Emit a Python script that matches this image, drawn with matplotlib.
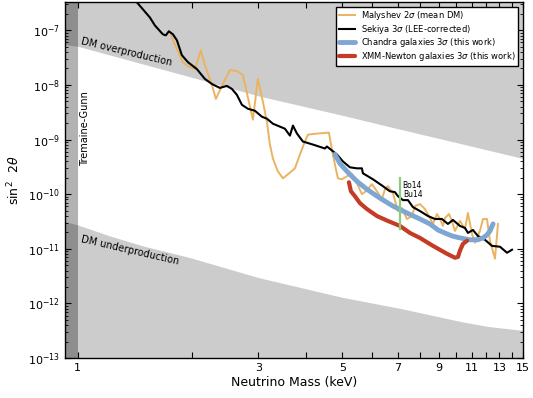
import matplotlib
matplotlib.use("Agg")
import matplotlib.pyplot as plt
from matplotlib.ticker import FixedLocator, NullLocator, LogLocator, FixedFormatter

# ---------------- data ----------------
# Sekiya 3 sigma (LEE-corrected)
sek_m = [1.43, 1.550, 1.598, 1.677, 1.708, 1.740, 1.783, 1.827, 1.883, 1.953, 2.063, 2.166,
         2.261, 2.373, 2.476, 2.553, 2.632, 2.713, 2.814, 2.936, 3.064, 3.159, 3.276, 3.524,
         3.634, 3.701, 3.792, 3.932, 4.178, 4.496, 4.550, 4.691, 4.836, 5.015, 5.234, 5.462,
         5.630, 5.665, 6.022, 6.398, 6.676, 6.882, 7.010, 7.227, 7.449, 7.679, 8.013, 8.413,
         8.779, 9.159, 9.502, 9.795, 10.22, 10.54, 10.73, 11.06, 11.40, 11.90, 12.42, 13.04,
         13.61, 14.03]
sek_s = [3.3e-7, 1.72e-7, 1.23e-7, 8.46e-8, 8.1e-8, 9.6e-8, 8.46e-8, 6.58e-8, 3.51e-8, 2.62e-8,
         1.95e-8, 1.29e-8, 1.04e-8, 8.82e-9, 9.6e-9, 8.46e-9, 6.58e-9, 4.33e-9, 3.66e-9, 3.37e-9,
         2.62e-9, 2.41e-9, 1.95e-9, 1.58e-9, 1.18e-9, 1.80e-9, 1.29e-9, 9.2e-10, 8.1e-10, 6.86e-10,
         7.46e-10, 6.31e-10, 5.34e-10, 3.98e-10, 3.10e-10, 2.97e-10, 2.97e-10, 2.41e-10, 1.87e-10,
         1.40e-10, 1.13e-10, 1.09e-10, 9.2e-11, 7.78e-11, 7.78e-11, 5.8e-11, 4.91e-11, 3.98e-11,
         3.51e-11, 3.51e-11, 2.85e-11, 3.37e-11, 2.62e-11, 2.41e-11, 1.95e-11, 2.21e-11, 1.72e-11,
         1.46e-11, 1.13e-11, 1.09e-11, 8.46e-12, 9.6e-12]

# Malyshev 2 sigma (mean DM)
mal_m = [1.761, 1.827, 1.895, 1.953, 2.039, 2.114, 2.166, 2.261, 2.316, 2.416, 2.522, 2.632,
         2.729, 2.831, 2.901, 2.990, 3.064, 3.159, 3.217, 3.276, 3.377, 3.481, 3.589, 3.746,
         3.862, 3.981, 4.054, 4.307, 4.606, 4.691, 4.777, 4.865, 4.985, 5.139, 5.298, 5.462,
         5.630, 5.769, 5.984, 6.169, 6.360, 6.477, 6.596, 6.800, 7.010, 7.182, 7.404, 7.632,
         7.773, 8.013, 8.261, 8.517, 8.675, 8.888, 9.052, 9.218, 9.331, 9.561, 9.737, 9.916,
         10.22, 10.54, 10.73, 11.00, 11.20, 11.54, 11.76, 12.05, 12.27, 12.65, 12.88]
mal_s = [8.1e-8, 4.52e-8, 2.62e-8, 2.21e-8, 1.95e-8, 4.33e-8, 2.31e-8, 1.0e-8, 5.56e-9, 1.04e-8,
         1.87e-8, 1.80e-8, 1.52e-8, 4.91e-9, 2.31e-9, 1.29e-8, 6.05e-9, 2.12e-9, 8.1e-10, 4.52e-10,
         2.62e-10, 1.95e-10, 2.31e-10, 2.97e-10, 5.34e-10, 9.2e-10, 1.23e-9, 1.29e-9, 1.34e-9,
         6.58e-10, 3.51e-10, 1.95e-10, 1.87e-10, 2.12e-10, 2.31e-10, 1.58e-10, 1.0e-10, 1.13e-10,
         1.52e-10, 1.13e-10, 8.1e-11, 1.23e-10, 1.40e-10, 1.04e-10, 4.91e-11, 5.56e-11, 3.51e-11,
         3.98e-11, 6.05e-11, 6.58e-11, 5.34e-11, 3.66e-11, 2.85e-11, 4.33e-11, 3.51e-11, 2.62e-11,
         3.66e-11, 4.33e-11, 3.23e-11, 2.12e-11, 3.23e-11, 2.31e-11, 4.52e-11, 1.87e-11, 1.29e-11,
         2.12e-11, 3.51e-11, 3.51e-11, 1.40e-11, 6.58e-12, 2.85e-11]

# Chandra galaxies 3 sigma (this work)
cha_m = [4.777, 4.924, 5.139, 5.462, 5.804, 6.283, 6.800, 7.404, 8.013, 8.517, 8.942, 9.445,
         9.737, 10.22, 10.86, 11.40, 11.76, 12.05, 12.27, 12.50]
cha_s = [5.34e-10, 3.66e-10, 2.62e-10, 1.72e-10, 1.23e-10, 8.46e-11, 6.05e-11, 4.52e-11, 3.51e-11,
         2.85e-11, 2.21e-11, 1.87e-11, 1.72e-11, 1.58e-11, 1.46e-11, 1.46e-11, 1.58e-11, 1.80e-11,
         2.12e-11, 2.85e-11]

# XMM-Newton galaxies 3 sigma (this work)
xmm_m = [5.203, 5.266, 5.395, 5.563, 5.804, 6.169, 6.596, 7.096, 7.540, 8.013, 8.675, 9.445,
         9.916, 10.10, 10.22, 10.41, 10.67]
xmm_s = [1.65e-10, 1.13e-10, 9.2e-11, 6.86e-11, 5.34e-11, 3.98e-11, 3.23e-11, 2.62e-11, 1.95e-11,
         1.58e-11, 1.13e-11, 8.1e-12, 6.86e-12, 7.1e-12, 9.2e-12, 1.23e-11, 1.40e-11]

# Bo14 / Bu14 3.5 keV line detection
bo_m = 7.1
bo_lo, bo_hi = 2.31e-11, 1.95e-10

# DM overproduction boundary
over_m = [0.9, 1.0, 2.0, 3.0, 5.0, 7.0, 10.0, 15.0]
over_s = [5.6e-8, 5.1e-8, 1.38e-8, 6.3e-9, 2.78e-9, 1.58e-9, 8.8e-10, 4.5e-10]

# DM underproduction boundary
under_m = [0.9, 1.0, 1.215, 1.485, 1.977, 3.0, 5.0, 7.1, 10.2, 12.05, 15.0]
under_s = [3.3e-11, 2.73e-11, 1.72e-11, 1.13e-11, 6.9e-12, 2.97e-12, 1.29e-12, 8.1e-13,
           4.7e-13, 3.8e-13, 3.2e-13]

# Tremaine-Gunn bound
tg_m = 1.0

xticks = list(range(1, 16))
xticklabels = [str(v) if v % 2 == 1 else '' for v in xticks]

# ---------------- plot ----------------
fig = plt.figure(figsize=(5.33, 3.98), dpi=100)
ax = fig.add_axes([65/533, 1-358/398, (523-65)/533, (358-2)/398])
ax.set_xscale('log')
ax.set_yscale('log')

ax.fill_between(over_m, over_s, 1e-5, color='#cccccc', lw=0, zorder=1)
ax.fill_between(under_m, 1e-15, under_s, color='#cccccc', lw=0, zorder=1)
ax.axvspan(0.5, tg_m, color='k', alpha=0.3, lw=0, zorder=1.5)

ax.plot(mal_m, mal_s, color='#ebb35f', lw=1.4, zorder=3, label=r'Malyshev 2$\sigma$ (mean DM)')
ax.plot(sek_m, sek_s, color='k', lw=1.5, zorder=4, label=r'Sekiya 3$\sigma$ (LEE-corrected)')
ax.plot(cha_m, cha_s, color='#7ea6d3', lw=3.5, zorder=5, solid_capstyle='round',
        label=r'Chandra galaxies 3$\sigma$ (this work)')
ax.plot(xmm_m, xmm_s, color='#c43c25', lw=3.0, zorder=6, solid_capstyle='round',
        label=r'XMM-Newton galaxies 3$\sigma$ (this work)')
ax.plot([bo_m, bo_m], [bo_lo, bo_hi], color='#8dcb7c', lw=1.6, zorder=7)

ax.text(7.2, 1.45e-10, 'Bo14', fontsize=5.5, ha='left', va='center', zorder=8)
ax.text(7.25, 1.0e-10, 'Bu14', fontsize=5.5, ha='left', va='center', zorder=8)

ax.text(1.015, 5.7e-8, 'DM overproduction', fontsize=7, rotation=-13.5,
        rotation_mode='anchor', ha='left', va='baseline', zorder=8)
ax.text(1.015, 1.34e-11, 'DM underproduction', fontsize=7, rotation=-13,
        rotation_mode='anchor', ha='left', va='baseline', zorder=8)
ax.text(1.012, 1.6e-9, 'Tremaine-Gunn', fontsize=7, rotation=90,
        ha='left', va='center', zorder=8)

ax.set_xlim(0.925, 15)
ax.set_ylim(1e-13, 3.3e-7)

ax.xaxis.set_major_locator(FixedLocator(xticks))
ax.xaxis.set_major_formatter(FixedFormatter(xticklabels))
ax.xaxis.set_minor_locator(NullLocator())
ax.yaxis.set_major_locator(LogLocator(base=10, numticks=20))
ax.yaxis.set_minor_locator(LogLocator(base=10, subs=range(2, 10), numticks=20))

ax.tick_params(which='both', direction='in', top=True, right=True, labelsize=8)
ax.tick_params(which='major', length=4, width=0.8)
ax.tick_params(which='minor', length=2, width=0.6)
for sp in ax.spines.values():
    sp.set_linewidth(1.0)
    sp.set_zorder(10)

ax.set_xlabel('Neutrino Mass (keV)', fontsize=9, labelpad=2)
ax.set_ylabel(r'$\sin^2\;\;2\theta$', fontsize=9)

leg = ax.legend(loc='upper right', fontsize=6, frameon=True, fancybox=False,
                edgecolor='k', framealpha=1, handlelength=1.9, handletextpad=0.8,
                borderaxespad=0.55, labelspacing=0.08, borderpad=0.3)
leg.get_frame().set_linewidth(1.0)
leg.set_zorder(20)

fig.savefig('out.png', dpi=100)
